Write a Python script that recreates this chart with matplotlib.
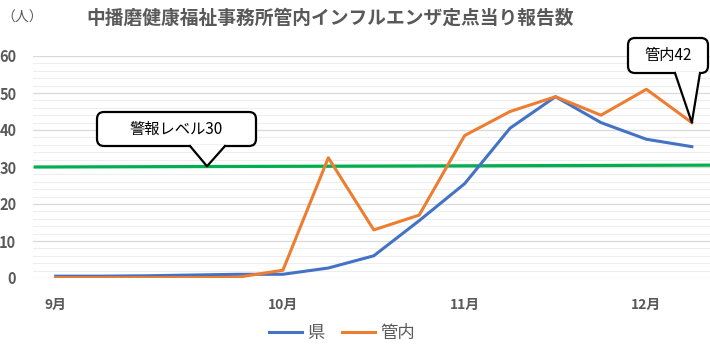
import numpy as np
import matplotlib
matplotlib.use("Agg")
import matplotlib.pyplot as plt
from matplotlib.ticker import MultipleLocator
from matplotlib.patches import FancyBboxPatch, Polygon
from matplotlib.transforms import IdentityTransform

plt.rcParams['font.family'] = ['Noto Sans CJK JP', 'DejaVu Sans']

# --- データ（週ごと、9月第1週〜12月第2週）---
weeks = np.arange(15)
ken = [0.5, 0.5, 0.6, 0.8, 1.0, 1.0, 2.7, 6.0, 15.5, 25.5, 40.5, 49.0, 42.0, 37.5, 35.5]
kannai = [0.1, 0.1, 0.1, 0.1, 0.2, 2.1, 32.5, 13.0, 17.0, 38.5, 45.0, 49.0, 44.0, 51.0, 42.0]
month_pos = [0, 5, 9, 13]
month_labels = ["9月", "10月", "11月", "12月"]
warn_level = [30.0, 30.5]   # 警報レベル（左端・右端）
yticks = [0, 10, 20, 30, 40, 50, 60]

W, H = 710, 362
gray = "#595959"

fig = plt.figure(figsize=(W / 100, H / 100), dpi=100)
ax = fig.add_axes([33 / W, 84 / H, 677 / W, 222 / H])

ax.set_xlim(-0.5, 14.4)
ax.set_ylim(0, 60)

# グリッド
ax.yaxis.set_minor_locator(MultipleLocator(2))
ax.set_yticks(yticks)
ax.grid(axis="y", which="major", color="#d9d9d9", lw=0.9)
ax.grid(axis="y", which="minor", color="#eeeeee", lw=0.8)
ax.set_axisbelow(True)
for s in ax.spines.values():
    s.set_visible(False)
ax.tick_params(axis="y", which="both", length=0, labelsize=10.5, labelcolor=gray, pad=12)
ax.tick_params(axis="x", length=0, labelsize=10, labelcolor=gray, pad=14)
for lab in ax.get_yticklabels():
    lab.set_fontweight("bold")
ax.set_xticks(month_pos)
ax.set_xticklabels(month_labels, fontweight="bold")

# 警報レベル線
ax.plot([-0.45, 14.4], warn_level, color="#00b050", lw=2.3, zorder=2)

# 系列
ax.plot(weeks, ken, color="#4472c4", lw=2.2, label="県", zorder=3)
ax.plot(weeks, kannai, color="#ed7d31", lw=2.2, label="管内", zorder=4)


# 吹き出し（ピクセル座標、上端基準）
def callout(text, box, base, tip):
    x0, y0, x1, y1 = box
    ident = IdentityTransform()
    px = lambda x, y: (x, H - y)
    rect = FancyBboxPatch(px(x0, y1), x1 - x0, y1 - y0,
                          boxstyle="round,pad=0,rounding_size=7",
                          fc="white", ec="black", lw=1.6, transform=ident, zorder=6)
    fig.add_artist(rect)
    tx, ty = ax.transData.transform(tip)
    tail = [px(base[0], y1 - 1.5), (tx, ty), px(base[1], y1 - 1.5)]
    fig.add_artist(Polygon(tail, closed=True, fc="white", ec="none", transform=ident, zorder=7))
    fig.add_artist(plt.Line2D([tail[0][0], tx, tail[2][0]], [H - y1, ty, H - y1],
                              color="black", lw=1.6, transform=ident, zorder=8))
    fig.text((x0 + x1) / 2 / W, 1 - (y0 + y1) / 2 / H, text, ha="center", va="center",
             fontsize=11, color="black", zorder=9)


callout("警報レベル30", (97, 112, 256, 146), (190, 225), (3.33, warn_level[0] + 0.2))
callout("管内42", (628, 38, 708, 73), (675, 700), (weeks[-1], kannai[-1]))

# タイトル等
fig.text(330 / W, 1 - 18 / H, "中播磨健康福祉事務所管内インフルエンザ定点当り報告数",
         ha="center", va="center", fontsize=13.5, fontweight="bold", color=gray)
fig.text(22 / W, 1 - 18 / H, "（人）", ha="center", va="center", fontsize=10, color=gray)

fig.legend(loc="center", bbox_to_anchor=(342 / W, 1 - 333 / H), ncol=2, frameon=False,
           fontsize=12.5, labelcolor=gray, handlelength=1.9, handletextpad=0.3, columnspacing=1.0)

plt.savefig("out.png", dpi=100)
